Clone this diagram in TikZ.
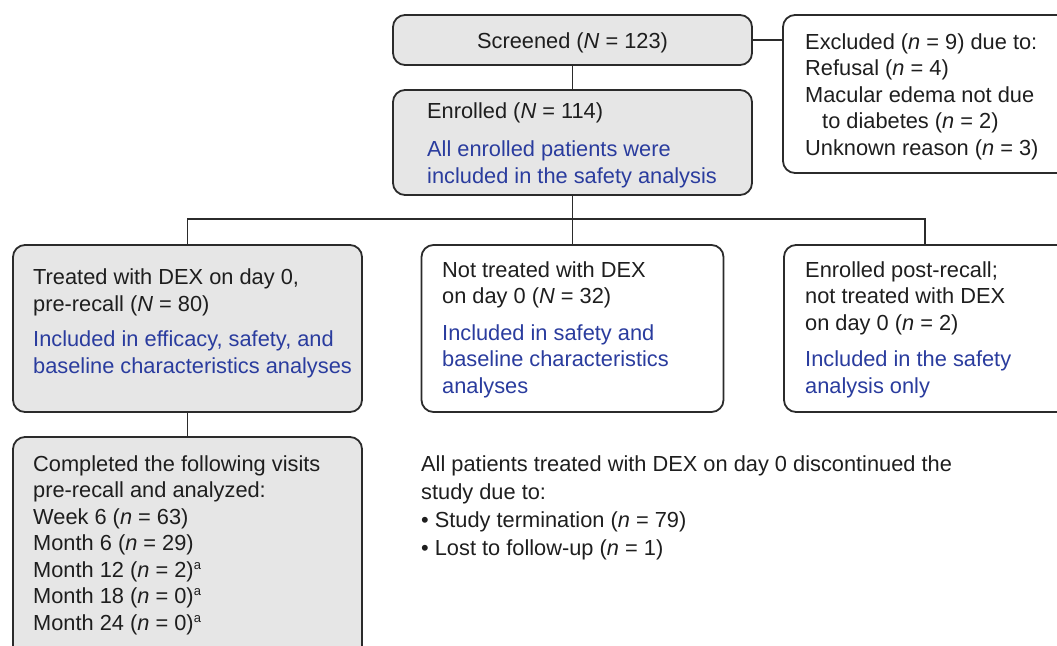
\documentclass[tikz,border=0pt]{standalone}
\usepackage{fontspec}
\setmainfont{Liberation Sans}
\definecolor{boxgray}{HTML}{E6E6E6}
\definecolor{linec}{HTML}{2B2B2B}
\definecolor{textc}{HTML}{1E1E1E}
\definecolor{bluetxt}{HTML}{2A3C9E}
\tikzset{
  box/.style={draw=linec, line width=1.8pt, rounded corners=12pt, inner sep=0pt},
  gbox/.style={box, fill=boxgray},
  wbox/.style={box, fill=white},
  txt/.style={font=\fontsize{21.8}{26.5}\selectfont, text=textc, align=left, anchor=base west, inner sep=0pt},
  conn/.style={draw=linec, line width=1.8pt},
}
\newcommand{\bl}[1]{\textcolor{bluetxt}{#1}}
\newcommand{\sa}{\textsuperscript{\fontsize{13}{13}\selectfont a}}
\begin{document}
\begin{tikzpicture}[x=1pt,y=-1pt]
\clip (0,0) rectangle (1057,645);
% boxes
\node[gbox, minimum width=359pt, minimum height=50pt] (screened) at (572.5,40) {};
\node[gbox, minimum width=359pt, minimum height=105pt] (enrolled) at (572.5,142.5) {};
\node[wbox, minimum width=307pt, minimum height=158pt] (excluded) at (936.5,94) {};
\node[gbox, minimum width=349pt, minimum height=167pt] (treated) at (187.5,328.5) {};
\node[wbox, minimum width=302pt, minimum height=167pt] (nottreated) at (572.5,328.5) {};
\node[wbox, minimum width=306pt, minimum height=167pt] (post) at (937,328.5) {};
\node[gbox, minimum width=349pt, minimum height=243pt] (completed) at (187.5,558.5) {};
\coordinate (hub) at (572.5,219);
% connectors
\draw[conn] (screened.east) -- (screened.east -| excluded.west);
\draw[conn] (screened.south) -- (enrolled.north);
\draw[conn] (enrolled.south) -- (nottreated.north);
\draw[conn] (treated.north) |- (hub) -| ([xshift=142pt]post.north west);
\draw[conn] (treated.south) -- (completed.north);
% texts (base anchor = baseline of the last line)
\node[txt, anchor=base] (tscr) at (572.5,48) {Screened (\textit{N} = 123)};
\node[txt] (tenr) at (427,183) {Enrolled (\textit{N} = 114)\\[12pt]
  \bl{All enrolled patients were}\\
  \bl{included in the safety analysis}};
\node[txt] (texc) at (805,155) {Excluded (\textit{n} = 9) due to:\\
  Refusal (\textit{n} = 4)\\
  Macular edema not due\\
  \hspace*{17pt}to diabetes (\textit{n} = 2)\\
  Unknown reason (\textit{n} = 3)};
\node[txt] (ttr) at (33,373) {Treated with DEX on day 0,\\
  pre-recall (\textit{N} = 80)\\[9pt]
  \bl{Included in efficacy, safety, and}\\
  \bl{baseline characteristics analyses}};
\node[txt] (tnt) at (442,393) {Not treated with DEX\\
  on day 0 (\textit{N} = 32)\\[10pt]
  \bl{Included in safety and}\\
  \bl{baseline characteristics}\\
  \bl{analyses}};
\node[txt] (tpost) at (805,393) {Enrolled post-recall;\\
  not treated with DEX\\
  on day 0 (\textit{n} = 2)\\[10pt]
  \bl{Included in the safety}\\
  \bl{analysis only}};
\node[txt] (tcomp) at (33,630) {Completed the following visits\\
  pre-recall and analyzed:\\
  Week 6 (\textit{n} = 63)\\
  Month 6 (\textit{n} = 29)\\
  Month 12 (\textit{n} = 2)\sa\\
  Month 18 (\textit{n} = 0)\sa\\
  Month 24 (\textit{n} = 0)\sa};
\node[txt, font=\fontsize{21.8}{27.5}\selectfont] (tall) at (421,555) {All patients treated with DEX on day 0 discontinued the\\
  study due to:\\[1pt]
  \textbullet\ Study termination (\textit{n} = 79)\\
  \textbullet\ Lost to follow-up (\textit{n} = 1)};
\end{tikzpicture}
\end{document}
